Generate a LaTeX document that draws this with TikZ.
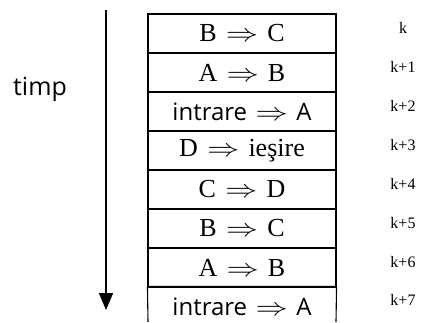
\documentclass[tikz,border=0pt]{standalone}
\usepackage{graphicx}
\usepackage{fontspec}
\setmainfont{Liberation Serif}
\newfontfamily\labelsans{Open Sans}
\usetikzlibrary{arrows.meta}
% transfer arrow between two stages, drawn a little wider than usual
\newcommand{\stagearrow}{\hspace{.35em}\scalebox{1.3}[1]{$\Rightarrow$}\hspace{.35em}}
\begin{document}
\begin{tikzpicture}[x=1pt,y=-1pt,
  rowbox/.style={draw, line width=1.1pt, minimum width=188pt, minimum height=39pt,
    inner sep=0pt, font=\fontsize{26}{26}\selectfont},
  sansrow/.style={rowbox, font=\labelsans\fontsize{24}{24}\selectfont},
  openbox/.style={sansrow, draw=none},
  steplabel/.style={inner sep=0pt, font=\fontsize{16}{16}\selectfont},
  timeline/.style={line width=1.6pt, -{Triangle[width=14pt,length=17pt]}}]
  \useasboundingbox (0,0) rectangle (426,322);
  % pipeline stages, one row per time step
  \node[rowbox]  (r1) at (242,33.5)  {B\stagearrow C};
  \node[rowbox]  (r2) at (242,72.5)  {A\stagearrow B};
  \node[sansrow] (r3) at (242,111.5) {intrare\stagearrow A};
  \node[rowbox]  (r4) at (242,150.5) {D\stagearrow ieşire};
  \node[rowbox]  (r5) at (242,189.5) {C\stagearrow D};
  \node[rowbox]  (r6) at (242,228.5) {B\stagearrow C};
  \node[rowbox]  (r7) at (242,267.5) {A\stagearrow B};
  \node[openbox] (r8) at (242,306.5) {intrare\stagearrow A};
  % the last row is left open at the bottom
  \coordinate (r8bl) at (148,322);
  \coordinate (r8br) at (336,322);
  \draw[line width=1.1pt] (r8bl) -- (r8.north west) -- (r8.north east) -- (r8br);
  % time step labels
  \node[steplabel] (k0) at (403,28)  {k};
  \node[steplabel] (k1) at (403,67)  {k+1};
  \node[steplabel] (k2) at (403,106) {k+2};
  \node[steplabel] (k3) at (403,145) {k+3};
  \node[steplabel] (k4) at (403,184) {k+4};
  \node[steplabel] (k5) at (403,223) {k+5};
  \node[steplabel] (k6) at (403,262) {k+6};
  \node[steplabel] (k7) at (403,300) {k+7};
  % time axis
  \coordinate (tstart) at (106,10);
  \coordinate (tend) at (106,310);
  \draw[timeline] (tstart) -- (tend);
  \node[font=\labelsans\fontsize{25}{25}\selectfont] (timp) at (40,89) {timp};
\end{tikzpicture}
\end{document}
